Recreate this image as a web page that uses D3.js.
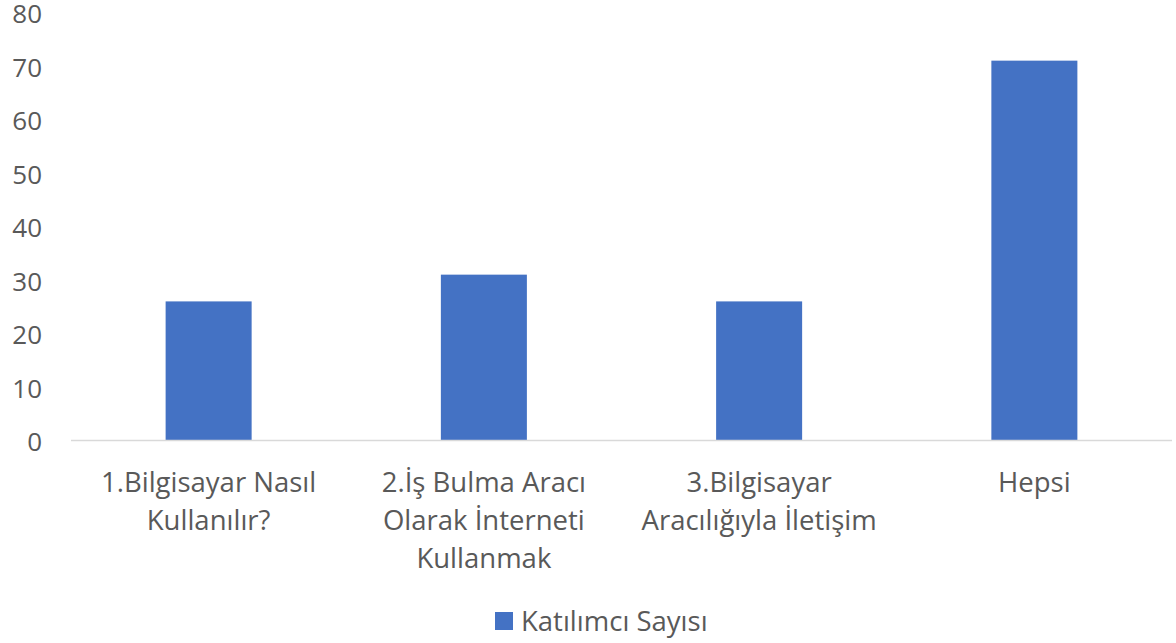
<!DOCTYPE html>
<html>
<head>
<meta charset="utf-8">
<script src="https://cdn.jsdelivr.net/npm/d3@7"></script>
<style>
  html, body { margin: 0; padding: 0; background: #fff; }
  svg text { font-family: "Open Sans", "Noto Sans", sans-serif; fill: #595959; }
</style>
</head>
<body>
<div id="chart"></div>
<script>
// category labels, split into lines as in the original
const categories = [
    ["1.Bilgisayar Nasıl", "Kullanılır?"],
    ["2.İş Bulma Aracı", "Olarak İnterneti", "Kullanmak"],
    ["3.Bilgisayar", "Aracılığıyla İletişim"],
    ["Hepsi"]
];
const values = [26, 31, 26, 71];
const yTicks = [0, 10, 20, 30, 40, 50, 60, 70, 80];
const seriesName = "Katılımcı Sayısı";

const width = 1176;
const height = 643;
const margin = { top: 12.5, right: 4, bottom: 202.5, left: 71 };

const svg = d3.select("#chart")
    .append("svg")
    .attr("width", width)
    .attr("height", height);

const x = d3.scaleBand()
    .domain(d3.range(categories.length))
    .range([margin.left, width - margin.right])
    .paddingInner(0.6875)
    .paddingOuter(0.34375);

const y = d3.scaleLinear()
    .domain([0, 80])
    .range([height - margin.bottom, margin.top]);

// y axis labels only (no domain line, no gridlines)
const yAxis = svg.append("g")
    .attr("transform", `translate(${margin.left},0)`)
    .call(d3.axisLeft(y).tickValues(yTicks).tickSize(0).tickPadding(29));
yAxis.select(".domain").remove();
yAxis.selectAll("text")
    .attr("font-size", "26px")
    .attr("dy", "0.4em")
    .attr("font-family", null)
    .attr("fill", null);

// bars
svg.selectAll("rect.bar")
    .data(values)
    .enter()
    .append("rect")
    .attr("class", "bar")
    .attr("x", (d, i) => x(i))
    .attr("y", d => y(d))
    .attr("width", x.bandwidth())
    .attr("height", d => y(0) - y(d))
    .attr("fill", "#4472c4");

// baseline
svg.append("line")
    .attr("x1", margin.left)
    .attr("x2", width - margin.right)
    .attr("y1", y(0))
    .attr("y2", y(0))
    .attr("stroke", "#d9d9d9")
    .attr("stroke-width", 1.5);

// category labels
const catG = svg.append("g");
categories.forEach((lines, i) => {
    const cx = x(i) + x.bandwidth() / 2;
    const t = catG.append("text")
        .attr("text-anchor", "middle")
        .attr("font-size", "27.5px");
    lines.forEach((ln, j) => {
        t.append("tspan")
            .attr("x", cx)
            .attr("y", 492 + j * 38)
            .text(ln);
    });
});

// legend
const legend = svg.append("g").attr("transform", "translate(495,612)");
legend.append("rect")
    .attr("width", 18)
    .attr("height", 18)
    .attr("fill", "#4472c4");
legend.append("text")
    .attr("x", 26)
    .attr("y", 19)
    .attr("font-size", "27.5px")
    .text(seriesName);
</script>
</body>
</html>
